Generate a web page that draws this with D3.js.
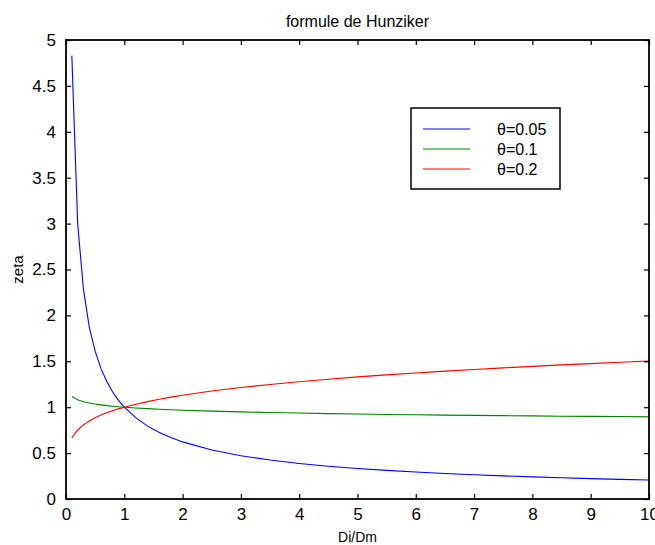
<!DOCTYPE html>
<html>
<head>
<meta charset="utf-8">
<script src="https://cdn.jsdelivr.net/npm/d3@7"></script>
<style>
    body { margin: 0; background: #ffffff; }
    text { font-family: "Liberation Sans", Arial, sans-serif; fill: #000; }
</style>
</head>
<body>
<div id="chart"></div>
<script>
// values
const ratios = [0.1, 0.2, 0.3, 0.4, 0.5, 0.6, 0.7, 0.8, 0.9, 1.0,
    1.2, 1.4, 1.6, 1.8, 2.0, 2.5, 3.0, 3.5, 4.0, 4.5, 5.0,
    5.5, 6.0, 6.5, 7.0, 7.5, 8.0, 8.5, 9.0, 9.5, 10.0];

const zeta005 = [4.83, 3.00, 2.28, 1.87, 1.61, 1.42, 1.28, 1.165, 1.075, 1.0,
    0.883, 0.794, 0.725, 0.669, 0.622, 0.534, 0.472, 0.424, 0.387, 0.357, 0.333,
    0.312, 0.294, 0.278, 0.264, 0.252, 0.241, 0.231, 0.222, 0.214, 0.207];

const zeta01 = [1.117, 1.080, 1.060, 1.045, 1.034, 1.025, 1.017, 1.011, 1.005, 1.0,
    0.991, 0.984, 0.978, 0.972, 0.967, 0.957, 0.949, 0.942, 0.936, 0.930, 0.926,
    0.921, 0.918, 0.914, 0.911, 0.908, 0.905, 0.902, 0.900, 0.898, 0.895];

const zeta02 = [0.665, 0.752, 0.808, 0.850, 0.885, 0.914, 0.939, 0.961, 0.982, 1.0,
    1.033, 1.061, 1.087, 1.110, 1.131, 1.176, 1.215, 1.248, 1.278, 1.305, 1.330,
    1.352, 1.373, 1.393, 1.411, 1.428, 1.445, 1.461, 1.475, 1.490, 1.503];

const seriesNames = ["θ=0.05", "θ=0.1", "θ=0.2"];
const seriesColors = ["#0000ff", "#008000", "#ff0000"];
const xTicks = [0, 1, 2, 3, 4, 5, 6, 7, 8, 9, 10];
const yTicks = [0, 0.5, 1, 1.5, 2, 2.5, 3, 3.5, 4, 4.5, 5];

const width = 655, height = 545;
const plotLeft = 66, plotRight = 649, plotTop = 40, plotBottom = 499;

let svg = d3.select("#chart")
    .append("svg")
    .attr("width", width)
    .attr("height", height);

let x = d3.scaleLinear().domain([0, 10]).range([plotLeft, plotRight]);
let y = d3.scaleLinear().domain([0, 5]).range([plotBottom, plotTop]);

svg.append("defs").append("clipPath")
    .attr("id", "plot-clip")
    .append("rect")
    .attr("x", plotLeft).attr("y", plotTop)
    .attr("width", plotRight - plotLeft).attr("height", plotBottom - plotTop);

// curves
let line = d3.line()
    .x((d, i) => x(ratios[i]))
    .y(d => y(d));

let allSeries = [zeta005, zeta01, zeta02];

svg.append("g")
    .attr("clip-path", "url(#plot-clip)")
    .selectAll("path")
    .data(allSeries)
    .enter()
    .append("path")
    .attr("d", line)
    .attr("fill", "none")
    .attr("stroke", (d, i) => seriesColors[i])
    .attr("stroke-width", 1.1);

// axes, box style with inward ticks
let fmt = d3.format("~g");
let xAxisB = d3.axisBottom(x).tickValues(xTicks).tickFormat(fmt).tickSizeInner(-5).tickSizeOuter(0).tickPadding(9);
let xAxisT = d3.axisTop(x).tickValues(xTicks).tickSizeInner(-5).tickSizeOuter(0).tickFormat("");
let yAxisL = d3.axisLeft(y).tickValues(yTicks).tickFormat(fmt).tickSizeInner(-5).tickSizeOuter(0).tickPadding(10);
let yAxisR = d3.axisRight(y).tickValues(yTicks).tickSizeInner(-5).tickSizeOuter(0).tickFormat("");

function styleAxis(g) {
    g.select(".domain").remove();
    g.selectAll(".tick line").attr("stroke", "#000").attr("stroke-width", 1.2);
    g.selectAll(".tick text")
        .attr("font-family", "Liberation Sans, Arial, sans-serif")
        .attr("font-size", 17)
        .attr("fill", "#000");
}

svg.append("g").attr("transform", `translate(0,${plotBottom})`).call(xAxisB).call(styleAxis);
svg.append("g").attr("transform", `translate(0,${plotTop})`).call(xAxisT).call(styleAxis);
svg.append("g").attr("transform", `translate(${plotLeft},0)`).call(yAxisL).call(styleAxis);
svg.append("g").attr("transform", `translate(${plotRight},0)`).call(yAxisR).call(styleAxis);

svg.append("rect")
    .attr("x", plotLeft).attr("y", plotTop)
    .attr("width", plotRight - plotLeft).attr("height", plotBottom - plotTop)
    .attr("fill", "none")
    .attr("stroke", "#000")
    .attr("stroke-width", 1.8);

// title and labels
svg.append("text")
    .attr("x", (plotLeft + plotRight) / 2).attr("y", 27)
    .attr("text-anchor", "middle")
    .attr("font-size", 16)
    .text("formule de Hunziker");

svg.append("text")
    .attr("x", (plotLeft + plotRight) / 2).attr("y", 542)
    .attr("text-anchor", "middle")
    .attr("font-size", 14)
    .text("Di/Dm");

svg.append("text")
    .attr("transform", `translate(23,${(plotTop + plotBottom) / 2}) rotate(-90)`)
    .attr("text-anchor", "middle")
    .attr("font-size", 15)
    .text("zeta");

// legend
let legend = svg.append("g").attr("transform", "translate(411,108)");

legend.append("rect")
    .attr("width", 149).attr("height", 81)
    .attr("fill", "#fff")
    .attr("stroke", "#000")
    .attr("stroke-width", 1.5);

let rows = legend.selectAll(".legend-row")
    .data(seriesNames)
    .enter()
    .append("g")
    .attr("class", "legend-row")
    .attr("transform", (d, i) => `translate(0,${21 + i * 20})`);

rows.append("line")
    .attr("x1", 12).attr("x2", 59)
    .attr("stroke", (d, i) => seriesColors[i])
    .attr("stroke-width", 1.1);

rows.append("text")
    .attr("x", 86).attr("y", 6)
    .attr("font-size", 16)
    .text(d => d);
</script>
</body>
</html>
